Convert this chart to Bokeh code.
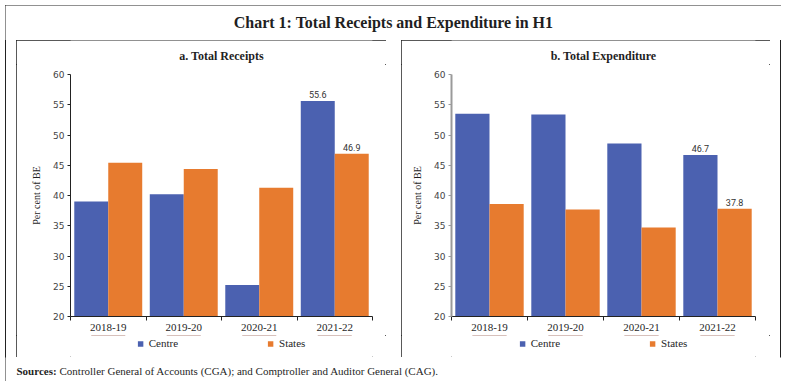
from bokeh.plotting import figure
from bokeh.models import (ColumnDataSource, Range1d, FixedTicker,
                          LinearAxis, Legend, LegendItem, Label, Spacer)
from bokeh.layouts import row, column
from bokeh.transform import dodge
from bokeh.core.properties import value
from bokeh.embed import file_html
from bokeh.resources import INLINE

# ---------------- data ----------------
chart_title = "Chart 1: Total Receipts and Expenditure in H1"
panel_titles = ["a. Total Receipts", "b. Total Expenditure"]
years = ["2018-19", "2019-20", "2020-21", "2021-22"]
series = ["Centre", "States"]
receipts_centre = [39.0, 40.2, 25.2, 55.6]
receipts_states = [45.4, 44.4, 41.3, 46.9]
expenditure_centre = [53.5, 53.4, 48.6, 46.7]
expenditure_states = [38.6, 37.7, 34.7, 37.8]
y_ticks = [20, 25, 30, 35, 40, 45, 50, 55, 60]
y_axis_label = "Per cent of BE"
labelled_year = "2021-22"
source_bold = "Sources:"
source_text = "Controller General of Accounts (CGA); and Comptroller and Auditor General (CAG)."

# ---------------- styles ----------------
BLUE = "#4B61B0"
ORANGE = "#E77B2F"
SERIF = "Liberation Serif"
INK = "#1f1f1f"
BOX = {"outline": "1.5px solid #222222", "outline-offset": "-1.5px"}

W = 776          # outer framed box
TOP_H = 35
PANEL_H = 317
BOT_H = 24
SUB_H = 24
CHART_H = 271
LEG_H = PANEL_H - SUB_H - CHART_H

# category slots on a numeric axis: slot i spans [i, i+1]
slot_centres = [i + 0.5 for i in range(len(years))]
slot_bounds = list(range(len(years) + 1))


def blank(width, height, x_range=None, y_range=None):
    f = figure(width=width, height=height,
               x_range=x_range or Range1d(0, width), y_range=y_range or Range1d(0, height),
               toolbar_location=None, output_backend="svg", min_border=0,
               x_axis_location=None, y_axis_location=None, outline_line_color=None)
    f.grid.visible = False
    return f


def make_panel(title, centre, states, width, left, right, yaxis_color, yaxis_width):
    # --- subtitle strip
    sub = blank(width, SUB_H)
    sub.add_layout(Label(x=width / 2, y=SUB_H - 15, text=title, text_align="center",
                         text_baseline="middle", text_font=SERIF, text_font_size="12px",
                         text_font_style="bold", text_color=INK))

    # --- bars
    src = ColumnDataSource(dict(x=slot_centres, year=years, centre=centre, states=states))
    i = years.index(labelled_year)
    lab = ColumnDataSource(dict(x=[slot_centres[i]], centre=[centre[i]], states=[states[i]],
                                ctext=[f"{centre[i]:.1f}"], stext=[f"{states[i]:.1f}"]))
    p = figure(width=width, height=CHART_H, x_range=Range1d(slot_bounds[0], slot_bounds[-1]),
               y_range=Range1d(y_ticks[0], y_ticks[-1]),
               x_axis_location=None, y_axis_location=None,
               toolbar_location=None, output_backend="svg",
               min_border_left=left, min_border_right=right,
               min_border_top=10, min_border_bottom=19)
    p.grid.visible = False
    p.outline_line_color = None

    p.vbar(x=dodge("x", -0.225), top="centre", width=0.45,
           source=src, fill_color=BLUE, line_color=None)
    p.vbar(x=dodge("x", 0.225), top="states", width=0.45,
           source=src, fill_color=ORANGE, line_color=None)
    for col, txt, off in (("centre", "ctext", -0.225), ("states", "stext", 0.225)):
        p.text(x=dodge("x", off), y=col, text=txt, source=lab,
               text_align="center", text_baseline="bottom", y_offset=-3,
               text_font=value("Roboto"), text_font_size="9px", text_color="#333333")

    yax = LinearAxis(ticker=FixedTicker(ticks=y_ticks), axis_label=y_axis_label,
                     axis_label_text_font=SERIF, axis_label_text_font_size="10px",
                     axis_label_text_font_style="normal", axis_label_text_color=INK,
                     axis_label_standoff=8,
                     major_label_text_font="DejaVu Sans", major_label_text_font_size="9px",
                     major_label_text_color="#444444", major_label_standoff=3,
                     major_tick_in=0, major_tick_out=3, minor_tick_line_color=None,
                     axis_line_color=yaxis_color, axis_line_width=yaxis_width,
                     major_tick_line_color=yaxis_color)
    p.add_layout(yax, "left")

    xax = LinearAxis(ticker=FixedTicker(ticks=slot_centres, minor_ticks=slot_bounds),
                     major_label_overrides={c: y for c, y in zip(slot_centres, years)},
                     major_tick_in=0, major_tick_out=0, major_tick_line_color=None,
                     minor_tick_in=0, minor_tick_out=4, minor_tick_line_color="#222222",
                     axis_line_color="#222222", major_label_standoff=3,
                     major_label_text_font=SERIF, major_label_text_font_size="11px",
                     major_label_text_color=INK)
    p.add_layout(xax, "below")

    # --- legend strip (its bar renderers lie outside its y range, so only the legend shows)
    lf = blank(width, LEG_H, x_range=Range1d(slot_bounds[0], slot_bounds[-1]),
               y_range=Range1d(-2, -1))
    g1 = lf.vbar(x="x", top="centre", width=0.45, source=src, fill_color=BLUE, line_color=None)
    g2 = lf.vbar(x="x", top="states", width=0.45, source=src, fill_color=ORANGE, line_color=None)
    leg = Legend(items=[LegendItem(label=series[0], renderers=[g1]),
                        LegendItem(label=series[1], renderers=[g2])],
                 orientation="horizontal", location="top_center", glyph_width=7, glyph_height=7,
                 label_height=12, spacing=89, label_standoff=5,
                 padding=0, margin=2, border_line_color=None, background_fill_alpha=0,
                 label_text_font=SERIF, label_text_font_size="11px", label_text_color=INK)
    lf.add_layout(leg)

    return column(sub, p, lf, styles=BOX)


pa = make_panel(panel_titles[0], receipts_centre, receipts_states, 370, 54, 14, "#222222", 1)
pb = make_panel(panel_titles[1], expenditure_centre, expenditure_states, 369, 50, 15, "#9a9a9a", 2)

top = blank(W, TOP_H)
top.add_layout(Label(x=W / 2, y=TOP_H - 17, text=chart_title, text_align="center",
                     text_baseline="middle", text_font=SERIF, text_font_size="16px",
                     text_font_style="bold", text_color=INK))

bot = blank(W, BOT_H)
bot.add_layout(Label(x=11, y=BOT_H - 13, text=source_bold, text_baseline="middle",
                     text_font=SERIF, text_font_size="11px", text_font_style="bold",
                     text_color=INK))
bot.add_layout(Label(x=54, y=BOT_H - 13, text=source_text, text_baseline="middle",
                     text_font=SERIF, text_font_size="11px", text_color=INK))

panels = row(Spacer(width=11, height=PANEL_H), pa, Spacer(width=15, height=PANEL_H), pb,
             Spacer(width=11, height=PANEL_H))
framed = column(top, panels, bot, styles=BOX)
page = column(Spacer(width=W + 5, height=5), row(Spacer(width=5, height=TOP_H + PANEL_H + BOT_H), framed))

open("out.html", "w").write(file_html(page, INLINE))
